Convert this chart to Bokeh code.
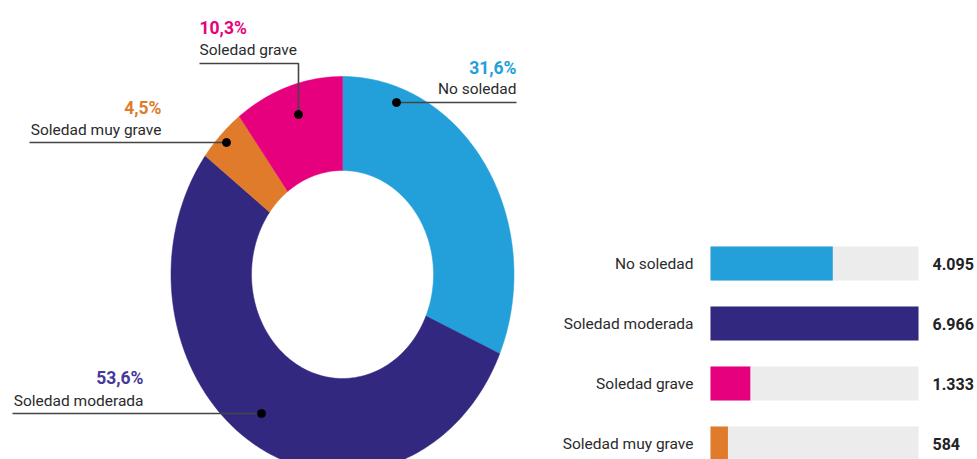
import math
from bokeh.plotting import figure
from bokeh.models import Range1d, ColumnDataSource
from bokeh.core.properties import value
from bokeh.embed import file_html
from bokeh.resources import INLINE

# ---------------- data ----------------
categories = ["No soledad", "Soledad moderada", "Soledad grave", "Soledad muy grave"]
counts = [4095, 6966, 1333, 584]
percents = [31.6, 53.6, 10.3, 4.5]
# order of slices clockwise from 12 o'clock
donut_order = ["No soledad", "Soledad moderada", "Soledad muy grave", "Soledad grave"]
colors = {"No soledad": "#23a0d9", "Soledad moderada": "#32287f",
          "Soledad grave": "#e6007e", "Soledad muy grave": "#e07b2c"}
label_colors = {"No soledad": "#23a0d9", "Soledad moderada": "#46399b",
                "Soledad grave": "#e6007e", "Soledad muy grave": "#e07b2c"}

# ---------------- layout (pixels) ----------------
W, H = 977, 459
CX, CY = 342, 274
RX_OUT, RY_OUT = 171.5, 198
RX_IN, RY_IN = 91, 104
FONT = "Roboto"
TEXT_COLOR = "#2b2b2b"
LINE_COLOR = "#444444"

p = figure(width=W, height=H, output_backend="svg", toolbar_location=None,
           x_range=Range1d(0, W), y_range=Range1d(H, 0), min_border=0)
p.axis.visible = False
p.grid.visible = False
p.outline_line_color = None
p.background_fill_color = "white"
p.border_fill_color = "white"

# ---------------- donut ----------------
cnt = dict(zip(categories, counts))
total = sum(cnt[c] for c in donut_order)
xs, ys, fills = [], [], []
acc = 0.0
for c in donut_order:
    a0 = acc / total * 2 * math.pi
    acc += cnt[c]
    a1 = acc / total * 2 * math.pi
    n = max(8, int((a1 - a0) / (2 * math.pi) * 360))
    ts = [a0 + (a1 - a0) * i / n for i in range(n + 1)]
    px = [CX + RX_OUT * math.sin(t) for t in ts] + [CX + RX_IN * math.sin(t) for t in reversed(ts)]
    py = [CY - RY_OUT * math.cos(t) for t in ts] + [CY - RY_IN * math.cos(t) for t in reversed(ts)]
    xs.append(px)
    ys.append(py)
    fills.append(colors[c])
p.patches(xs=xs, ys=ys, fill_color=fills, line_color=fills, line_width=0.5)

# ---------------- donut labels ----------------
pct = dict(zip(categories, percents))
# (category, text x, align, pct y, name y, leader polyline xs, ys)
donut_labels = [
    ("No soledad", 516, "right", 67, 88, [516, 396], [102, 102]),
    ("Soledad grave", 199, "left", 27, 49, [199, 298, 298], [63, 63, 114]),
    ("Soledad muy grave", 161, "right", 107, 129, [29, 226], [142, 142]),
    ("Soledad moderada", 143, "right", 377, 400, [12, 261], [413, 413]),
]
for c, tx, al, yp, yn, lx, ly in donut_labels:
    p.line(lx, ly, line_color=LINE_COLOR, line_width=1.6)
    p.scatter([lx[-1]], [ly[-1]], size=8, color="black")
    p.text([tx], [yp], text=[f"{pct[c]:.1f}%".replace(".", ",")],
           text_font=value(FONT), text_font_style="bold", text_font_size="17.5px",
           text_color=label_colors[c], text_align=al, text_baseline="middle")
    p.text([tx], [yn], text=[c], text_font=value(FONT), text_font_size="15.5px",
           text_color=TEXT_COLOR, text_align=al, text_baseline="middle")

# ---------------- bars ----------------
BAR_X0, BAR_W, BAR_H = 710, 208, 34
bar_y = [263, 323, 383, 443]
vmax = max(counts)
src = ColumnDataSource(dict(
    y=bar_y, cat=categories,
    left=[BAR_X0] * len(counts),
    track=[BAR_X0 + BAR_W] * len(counts),
    right=[BAR_X0 + BAR_W * v / vmax for v in counts],
    color=[colors[c] for c in categories],
    lab=[f"{v:,}".replace(",", ".") for v in counts],
    lx=[693] * len(counts), vx=[932] * len(counts),
))
p.hbar(y="y", left="left", right="track", height=BAR_H, fill_color="#ececec",
       line_color=None, source=src)
p.hbar(y="y", left="left", right="right", height=BAR_H, fill_color="color",
       line_color=None, source=src)
p.text(x="lx", y="y", text="cat", source=src, text_font=value(FONT),
       text_font_size="15.5px", text_color=TEXT_COLOR, text_align="right",
       text_baseline="middle")
p.text(x="vx", y="y", text="lab", source=src, text_font=value(FONT),
       text_font_size="16px", text_font_style="bold", text_color="#222222",
       text_align="left", text_baseline="middle")

open("out.html", "w").write(file_html(p, INLINE))
